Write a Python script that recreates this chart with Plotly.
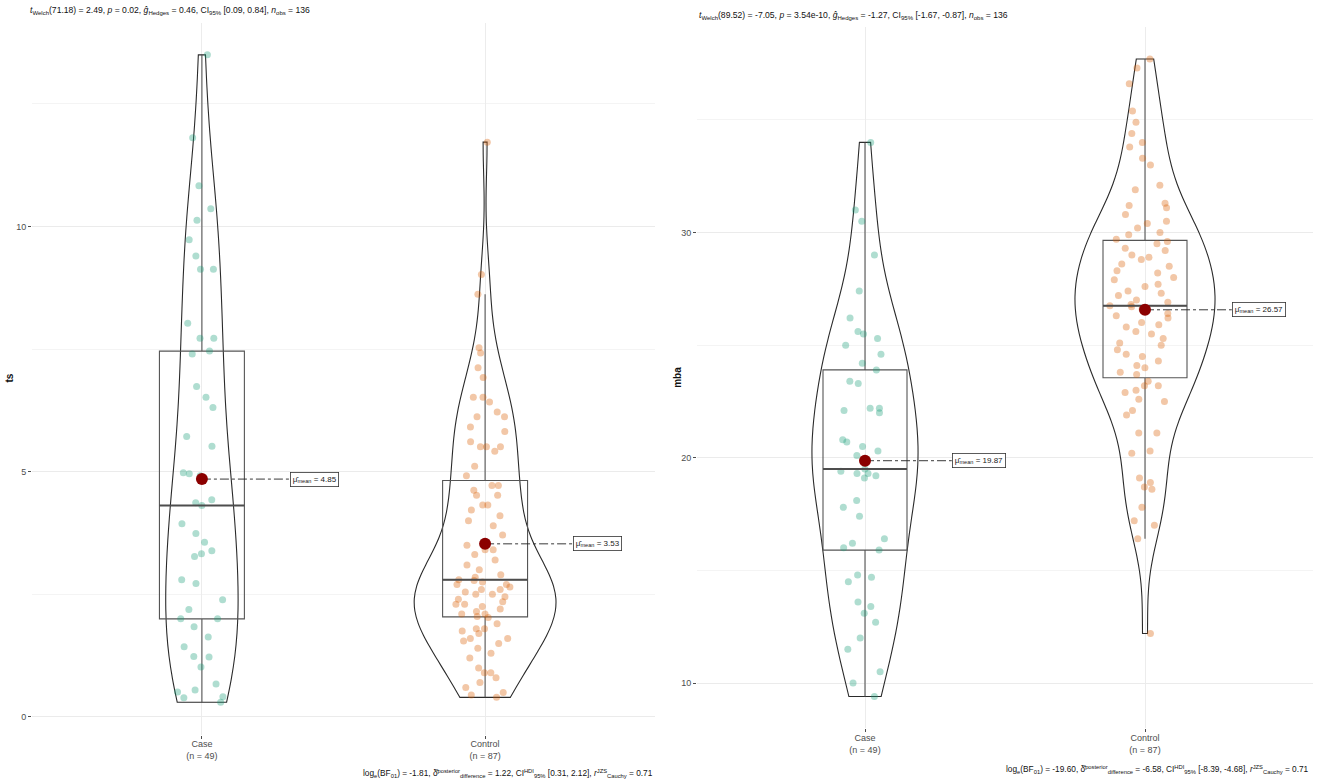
import numpy as np
import plotly.graph_objects as go

# ---- data -------------------------------------------------------------
groups = ["Case", "Control"]

ts_case = [0.3, 0.39, 0.41, 0.51, 0.55, 0.67, 1.02, 1.22, 1.23, 1.43, 1.63, 1.84,
           2.0, 2.0, 2.19, 2.39, 2.72, 2.8, 3.27, 3.33, 3.39, 3.56, 3.74, 3.94,
           4.31, 4.37, 4.43, 4.92, 4.96, 4.98, 5.52, 5.72, 6.31, 6.52, 6.74, 7.4,
           7.46, 7.72, 7.72, 8.03, 9.13, 9.13, 9.4, 9.73, 10.13, 10.36, 10.83, 11.81, 13.5]

ts_control = [0.4, 0.45, 0.5, 0.6, 0.7, 0.8, 0.9, 0.9, 1.0, 1.2, 1.3, 1.4, 1.5, 1.55,
              1.6, 1.6, 1.7, 1.75, 1.8, 1.8, 1.9, 2.03,
              2.05, 2.1, 2.1, 2.15, 2.2, 2.25, 2.3, 2.3, 2.35, 2.4, 2.45, 2.5, 2.5, 2.55,
              2.6, 2.6, 2.65, 2.7, 2.7, 2.75, 2.78, 2.8,
              2.85, 2.9, 3.0, 3.1, 3.2, 3.31, 3.41, 3.41, 3.5, 3.71, 3.9, 4.0, 4.1, 4.22,
              4.32, 4.32, 4.52, 4.52, 4.62, 4.72, 4.72,
              4.92, 5.11, 5.42, 5.51, 5.51, 5.51, 5.61, 5.82, 5.91, 6.12, 6.12, 6.22,
              6.42, 6.52, 6.52, 6.92, 7.12, 7.42, 7.53, 8.62, 9.02, 11.72]

mba_case = [9.4, 10.0, 10.5, 11.5, 12.0, 12.7, 13.1, 13.4, 13.6, 14.5, 14.7, 14.8, 15.9,
            16.0, 16.2, 16.4, 17.4, 17.8, 18.1, 19.1, 19.2, 19.3, 19.3, 19.4, 19.5,
            20.1, 20.3, 20.5, 20.7, 20.8, 22.0, 22.1, 22.2, 22.2, 23.3, 23.4, 23.9,
            24.2, 24.6, 25.0, 25.6, 26.2, 25.3, 25.5, 27.4, 29.0, 30.5, 31.0, 34.0]

mba_control = [12.2, 16.4, 17.0, 17.2, 17.8, 18.6, 18.7, 18.9, 19.1, 20.2, 20.3, 21.1,
               21.1, 21.9, 22.1, 22.5, 22.6, 22.9, 23.0, 23.2, 23.2, 23.4,
               23.7, 23.8, 24.0, 24.1, 24.3, 24.5, 24.6, 24.8, 25.0, 25.1, 25.3, 25.5,
               25.6, 25.8, 25.9, 26.0, 26.2, 26.3, 26.4, 26.6, 26.7, 26.75,
               26.8, 26.9, 27.0, 27.2, 27.3, 27.4, 27.6, 27.7, 27.9, 28.0, 28.2, 28.3,
               28.5, 28.6, 28.8, 28.9, 29.0, 29.2, 29.3, 29.5, 29.6,
               29.7, 29.9, 30.0, 30.2, 30.4, 30.5, 30.8, 31.1, 31.2, 31.3, 31.9, 32.1,
               33.3, 33.0, 33.8, 34.0, 34.4, 35.4, 34.9, 36.6, 37.3, 37.7]

subtitles = [
    "<i>t</i><sub>Welch</sub>(71.18) = 2.49, <i>p</i> = 0.02, <i>ĝ</i><sub>Hedges</sub> = 0.46, "
    "CI<sub>95%</sub> [0.09, 0.84], <i>n</i><sub>obs</sub> = 136",
    "<i>t</i><sub>Welch</sub>(89.52) = -7.05, <i>p</i> = 3.54e-10, <i>ĝ</i><sub>Hedges</sub> = -1.27, "
    "CI<sub>95%</sub> [-1.67, -0.87], <i>n</i><sub>obs</sub> = 136",
]
captions = [
    "log<sub>e</sub>(BF<sub>01</sub>) = -1.81, δ̂<sup>posterior</sup><sub>difference</sub> = 1.22, "
    "CI<sup>HDI</sup><sub>95%</sub> [0.31, 2.12], <i>r</i><sup>JZS</sup><sub>Cauchy</sub> = 0.71",
    "log<sub>e</sub>(BF<sub>01</sub>) = -19.60, δ̂<sup>posterior</sup><sub>difference</sub> = -6.58, "
    "CI<sup>HDI</sup><sub>95%</sub> [-8.39, -4.68], <i>r</i><sup>JZS</sup><sub>Cauchy</sub> = 0.71",
]

panels = [
    dict(var="ts", values=[ts_case, ts_control], dtick=5),
    dict(var="mba", values=[mba_case, mba_control], dtick=10),
]

# ---- styling ----------------------------------------------------------
W, H = 1317, 783
FONT = "Liberation Sans, Arial, sans-serif"
point_cols = ["rgba(27,158,119,0.35)", "rgba(217,95,2,0.35)"]
x_dom = [(32 / W, 655 / W), (697 / W, 1313 / W)]
y_dom = [((H - 734.6) / H, (H - 22.5) / H), ((H - 728.4) / H, (H - 27.2) / H)]
sub_pos = [(28 / W, (H - 10) / H), (697 / W, (H - 15) / H)]
cap_pos = [(655 / W, (H - 773) / H), (1311 / W, (H - 769) / H)]
ytitle_x = [10 / W, 678 / W]
VIOLIN_WIDTH = 0.5


def nrd0(v):
    v = np.asarray(v, float)
    iqr = np.subtract(*np.percentile(v, [75, 25]))
    return 0.9 * min(v.std(ddof=1), iqr / 1.34) * len(v) ** -0.2


def kde_peak(v):
    """Peak of a Gaussian KDE evaluated over the data range (trimmed violin)."""
    v = np.asarray(v, float)
    bw = nrd0(v)
    grid = np.linspace(v.min(), v.max(), 512)
    dens = np.exp(-0.5 * ((grid[:, None] - v[None, :]) / bw) ** 2).sum(axis=1)
    dens /= len(v) * bw * np.sqrt(2 * np.pi)
    return dens.max()


fig = go.Figure()
annotations = []

for p, panel in enumerate(panels):
    xa = "x" if p == 0 else "x2"
    ya = "y" if p == 0 else "y2"
    allv = np.concatenate([np.asarray(v, float) for v in panel["values"]])
    lo, hi = allv.min(), allv.max()
    pad = 0.05 * (hi - lo)
    # equal-area violins: the one with the highest density peak gets full width
    peaks = [kde_peak(v) for v in panel["values"]]

    for g, vals in enumerate(panel["values"]):
        vals = np.asarray(vals, float)
        fig.add_trace(go.Violin(
            y=vals, x0=g, xaxis=xa, yaxis=ya,
            width=VIOLIN_WIDTH * peaks[g] / max(peaks), scalemode="width",
            spanmode="hard", bandwidth=nrd0(vals), points=False,
            fillcolor="rgba(0,0,0,0)", line=dict(color="#2b2b2b", width=1.1),
            hoverinfo="skip", showlegend=False))
        # box with jittered raw points
        fig.add_trace(go.Box(
            y=vals, x0=g, xaxis=xa, yaxis=ya, width=0.3, boxpoints="all",
            jitter=0.85, pointpos=0, quartilemethod="inclusive", whiskerwidth=0,
            fillcolor="rgba(0,0,0,0)", line=dict(color="#555555", width=1.1),
            marker=dict(color=point_cols[g], size=7, line=dict(width=0)),
            hoverinfo="skip", showlegend=False))
        # thicker median bar
        med = float(np.median(vals))
        fig.add_trace(go.Scatter(
            x=[g - 0.15, g + 0.15], y=[med, med], xaxis=xa, yaxis=ya,
            mode="lines", line=dict(color="#4d4d4d", width=2),
            hoverinfo="skip", showlegend=False))
        # mean marker, connector and label
        mu = float(np.mean(vals))
        fig.add_trace(go.Scatter(
            x=[g, g + 0.31], y=[mu, mu], xaxis=xa, yaxis=ya, mode="lines",
            line=dict(color="#222222", width=0.9, dash="dashdot"),
            hoverinfo="skip", showlegend=False))
        fig.add_trace(go.Scatter(
            x=[g], y=[mu], xaxis=xa, yaxis=ya, mode="markers",
            marker=dict(color="#8B0000", size=12),
            hoverinfo="skip", showlegend=False))
        annotations.append(dict(
            x=g + 0.31, y=mu, xref=xa, yref=ya, xanchor="left", yanchor="middle",
            text=f"μ̂<sub>mean</sub> = {mu:.2f}", showarrow=False,
            font=dict(family=FONT, size=8, color="#222222"),
            bgcolor="white", bordercolor="#333333", borderwidth=0.8, borderpad=2))

    ticktext = [f"{name}<br>(n = {len(v)})" for name, v in zip(groups, panel["values"])]
    axis_x = dict(domain=x_dom[p], range=[-0.6, 1.6], tickvals=[0, 1], ticktext=ticktext,
                  showgrid=True, gridcolor="#ececec", gridwidth=1, zeroline=False,
                  showline=False, ticks="outside", ticklen=3, tickcolor="#4d4d4d",
                  ticklabelstandoff=-2,
                  tickfont=dict(family=FONT, size=9, color="#4d4d4d"),
                  anchor=ya, fixedrange=True)
    axis_y = dict(domain=y_dom[p], range=[lo - pad, hi + pad], dtick=panel["dtick"],
                  showgrid=True, gridcolor="#ebebeb", gridwidth=1, zeroline=False,
                  showline=False, ticks="outside", ticklen=3, tickcolor="#4d4d4d",
                  tickfont=dict(family=FONT, size=9, color="#4d4d4d"),
                  minor=dict(dtick=panel["dtick"] / 2, showgrid=True, gridcolor="#f4f4f4"),
                  anchor=xa, fixedrange=True)
    if p == 0:
        fig.update_layout(xaxis=axis_x, yaxis=axis_y)
    else:
        fig.update_layout(xaxis2=axis_x, yaxis2=axis_y)

    annotations.append(dict(
        x=sub_pos[p][0], y=sub_pos[p][1], xref="paper", yref="paper",
        xanchor="left", yanchor="middle", text=subtitles[p], showarrow=False,
        font=dict(family=FONT, size=8.6, color="#111111")))
    annotations.append(dict(
        x=cap_pos[p][0], y=cap_pos[p][1], xref="paper", yref="paper",
        xanchor="right", yanchor="middle", text=captions[p], showarrow=False,
        font=dict(family=FONT, size=8.3, color="#111111")))
    annotations.append(dict(
        x=ytitle_x[p], y=(y_dom[p][0] + y_dom[p][1]) / 2, xref="paper", yref="paper",
        xanchor="center", yanchor="middle", text=f"<b>{panel['var']}</b>",
        textangle=-90, showarrow=False,
        font=dict(family=FONT, size=10, color="#111111")))

fig.update_layout(
    width=W, height=H, margin=dict(l=0, r=0, t=0, b=0),
    paper_bgcolor="white", plot_bgcolor="white",
    boxmode="overlay", violinmode="overlay",
    annotations=annotations, font=dict(family=FONT),
)

fig.write_html("out.html")
